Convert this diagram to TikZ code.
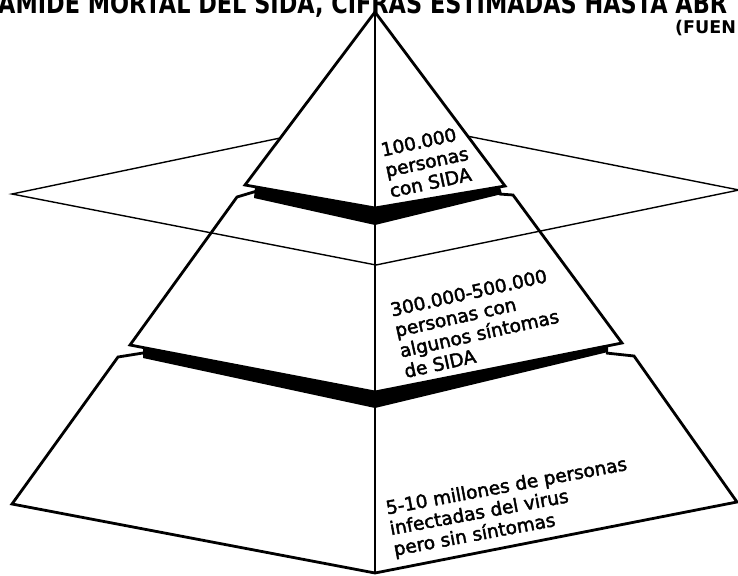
\documentclass[tikz,border=0pt]{standalone}
\usepackage{fontspec}
\setmainfont{DejaVu Sans}
\newfontfamily\lblfont{DejaVu Sans}[FakeBold=2.2]
\begin{document}
\begin{tikzpicture}[x=1pt,y=-1pt,
  edge/.style={line width=2.8pt,line join=miter},
  planeline/.style={line width=1.4pt,line join=miter},
  band/.style={fill=black,draw=none},
  lbl/.style={anchor=north west,inner sep=0pt,align=left,font=\lblfont\fontsize{18.5}{21}\selectfont},
  ttl/.style={anchor=base west,inner sep=0pt,font=\bfseries\fontsize{28}{30}\selectfont}]
\useasboundingbox (0,0) rectangle (738,575);
\clip (0,0) rectangle (738,575);
% plane
\coordinate (PL) at (12,194);
\coordinate (PB) at (376,118);
\coordinate (PR) at (739,190);
\coordinate (PF) at (376,265);
% pyramid
\coordinate (A) at (375,12);
\coordinate (T1L) at (245,185);
\coordinate (T1F) at (375,208);
\coordinate (T1R) at (505,186);
\coordinate (T2L) at (237,197);
\coordinate (T2F) at (375,225);
\coordinate (T2R) at (513,195);
\coordinate (B2L) at (130,345);
\coordinate (B2F) at (375,392);
\coordinate (B2R) at (622,343);
\coordinate (T3L) at (118,357);
\coordinate (T3F) at (375,408);
\coordinate (T3R) at (634,356);
\coordinate (B3L) at (12,504);
\coordinate (B3F) at (375,573);
\coordinate (B3R) at (737,502);
% title (cut off by the page edges, as in the scan)
\node[ttl] (title) at (-2,14) {\scalebox{0.8}[1]{AMIDE MORTAL DEL SIDA, CIFRAS ESTIMADAS HASTA ABR}};
\node[anchor=base west,inner sep=0pt,font=\bfseries\fontsize{17.5}{19}\selectfont] (fuente) at (675,34) {(FUEN};
% plane
\draw[planeline] (PL)--(PB)--(PR)--(PF)--cycle;
% bands
\fill[band] (255,187)--(T1F)--(500,187)--(502,194)--(T2F)--(254,198)--cycle;
\fill[band] (143,347)--(B2F)--(608,345)--(608,352)--(T3F)--(143,358)--cycle;
% tier 1
\filldraw[fill=white,edge] (A)--(T1L)--(T1F)--(T1R)--cycle;
% tier 2
\draw[edge] (257,191)--(T2L)--(B2L)--(B2F)--(B2R)--(T2R)--(499,194);
% tier 3
\draw[edge] (143,353)--(T3L)--(B3L)--(B3F)--(B3R)--(T3R)--(606,353);
% centre edge
\draw[edge] (A)--(B3F);
% labels
\node[lbl,rotate=12] (l1) at (379.5,143) {100.000\\personas\\con SIDA};
\node[lbl,rotate=12.5] (l2) at (389,303) {300.000-500.000\\personas con\\algunos síntomas\\de SIDA};
\node[lbl,rotate=10.5] (l3) at (384.5,500.5) {5-10 millones de personas\\infectadas del virus\\pero sin síntomas};
\end{tikzpicture}
\end{document}
